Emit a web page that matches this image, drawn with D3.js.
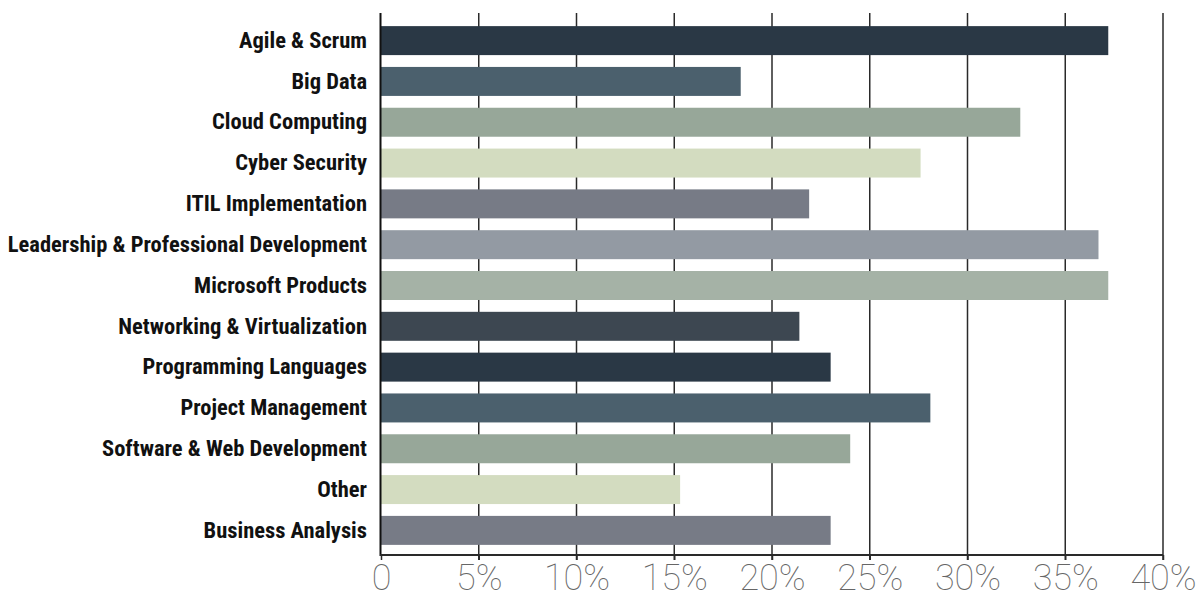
<!DOCTYPE html>
<html>
<head>
<meta charset="utf-8">
<script src="https://cdn.jsdelivr.net/npm/d3@7/dist/d3.min.js"></script>
<style>
html,body{margin:0;padding:0;background:#fff;}
svg{display:block;}
</style>
</head>
<body>
<svg id="chart" width="1201" height="593"></svg>
<script>
const categories = [
  "Agile & Scrum",
  "Big Data",
  "Cloud Computing",
  "Cyber Security",
  "ITIL Implementation",
  "Leadership & Professional Development",
  "Microsoft Products",
  "Networking & Virtualization",
  "Programming Languages",
  "Project Management",
  "Software & Web Development",
  "Other",
  "Business Analysis"
];
const values = [37.2, 18.4, 32.7, 27.6, 21.9, 36.7, 37.2, 21.4, 23.0, 28.1, 24.0, 15.3, 23.0];
const barColors = ["#2a3845", "#4b606d", "#97a799", "#d3dcc0", "#777b86", "#939aa3", "#a5b2a6", "#3d4751", "#2a3845", "#4b606d", "#97a799", "#d3dcc0", "#777b86"];
const tickValues = [0, 5, 10, 15, 20, 25, 30, 35, 40];
const tickLabels = ["0", "5%", "10%", "15%", "20%", "25%", "30%", "35%", "40%"];

const svg = d3.select("#chart");
const plotLeft = 381, plotRight = 1163, plotTop = 13, plotBottom = 555;

const x = d3.scaleLinear().domain([0, 40]).range([plotLeft, plotRight]);
const y = d3.scaleBand().domain(categories).range([20, 551]).paddingInner(0.29).paddingOuter(0.15);

// gridlines
svg.append("g").selectAll("line").data(tickValues.slice(1)).join("line")
  .attr("x1", d => x(d)).attr("x2", d => x(d))
  .attr("y1", plotTop).attr("y2", plotBottom + 5)
  .attr("stroke", "#2a2a2a").attr("stroke-width", 1.5);

// bars
svg.append("g").selectAll("rect").data(categories).join("rect")
  .attr("x", x(0))
  .attr("y", d => y(d))
  .attr("width", (d, i) => x(values[i]) - x(0))
  .attr("height", y.bandwidth())
  .attr("fill", (d, i) => barColors[i]);

// left axis line
svg.append("line").attr("x1", plotLeft - 0.5).attr("x2", plotLeft - 0.5).attr("y1", plotTop).attr("y2", plotBottom + 1)
  .attr("stroke", "#111").attr("stroke-width", 2);

// bottom axis
const xAxis = d3.axisBottom(x).tickValues(tickValues).tickFormat((d, i) => tickLabels[i]).tickSize(5).tickPadding(4);
const gx = svg.append("g").attr("transform", `translate(0,${plotBottom})`).call(xAxis);
gx.select(".domain").attr("stroke", "#2a2a2a").attr("stroke-width", 2).attr("d", `M${plotLeft - 1},0H${plotRight}`);
gx.selectAll(".tick line").attr("stroke", "#2a2a2a").attr("stroke-width", 1.5);
gx.selectAll(".tick text")
  .attr("fill", "#666")
  .attr("y", 0).attr("dy", null)
  .attr("transform", "translate(0,35)")
  .style("font-family", "Roboto, 'Liberation Sans', sans-serif")
  .style("font-weight", "100")
  .style("font-size", "36px");

// category labels
const yAxis = d3.axisLeft(y).tickSize(0).tickPadding(14);
const gy = svg.append("g").attr("transform", `translate(${plotLeft},0)`).call(yAxis);
gy.select(".domain").remove();
gy.selectAll(".tick text")
  .attr("fill", "#111")
  .style("font-family", "'Liberation Sans Narrow', 'Roboto Condensed', 'Liberation Sans', sans-serif")
  .style("font-weight", "bold")
  .style("font-size", "22.5px");
</script>
</body>
</html>
